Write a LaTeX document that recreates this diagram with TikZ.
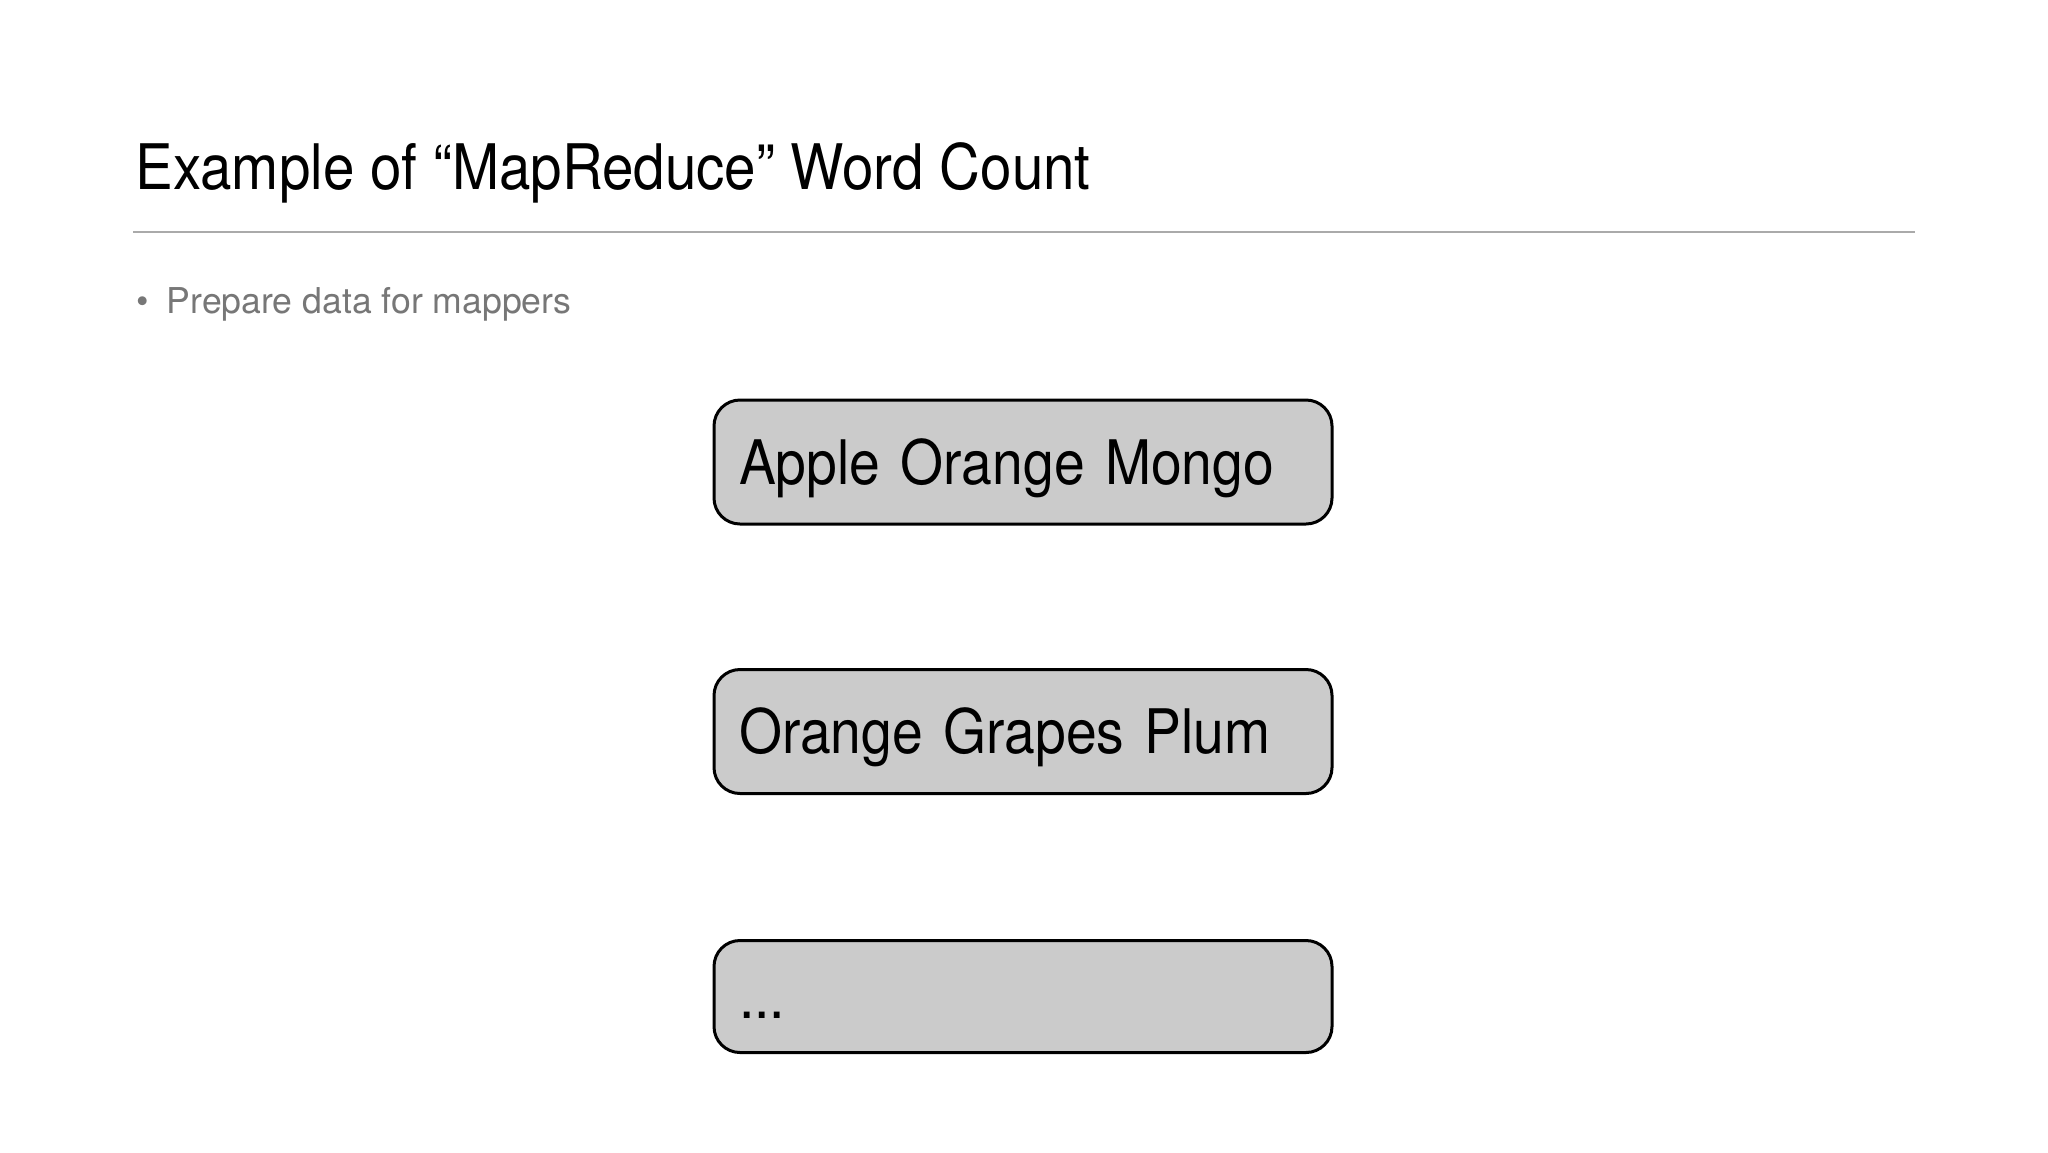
\documentclass[tikz,border=0pt]{standalone}
\usepackage{fontspec}
\setmainfont{TeX Gyre Heros}
\newfontfamily\slidefont[FakeStretch=0.9]{TeX Gyre Heros}
\definecolor{boxgray}{HTML}{CBCBCB}
\definecolor{rulegray}{HTML}{AAAAAA}
\definecolor{bulletgray}{HTML}{777777}
\begin{document}
\begin{tikzpicture}
[x=0.5pt,y=-0.5pt,
word box/.style={draw=black,line width=1.5pt,fill=boxgray,rounded corners=13pt,
  minimum width=309pt,text width=284pt,align=left,inner sep=0pt,
  font=\slidefont\fontsize{30.7}{36}\selectfont,text height=22pt,text depth=0pt},
slide text/.style={anchor=base west,inner sep=0pt}]
\useasboundingbox[fill=white] (0,0) rectangle (2048,1152);
% title and rule
\node[slide text,font=\slidefont\fontsize{31.4}{37}\selectfont] (title) at (135,189)
{Example of “MapReduce” Word Count};
\coordinate (rule left) at (133,232);
\coordinate (rule right) at (1915,232);
\draw[rulegray,line width=1pt] (rule left) -- (rule right);
% bullet
\node[slide text,font=\fontsize{17.8}{21}\selectfont,text=bulletgray] (bullet) at (136,313)
{\textbullet\hspace{9pt}Prepare data for mappers};
% input splits
\node[word box,minimum height=62pt] (split one) at (1023,462) {Apple Orange Mongo};
\node[word box,minimum height=62pt] (split two) at (1023,731.5) {Orange Grapes Plum};
\node[word box,minimum height=56pt] (split three) at (1023,996.5) {...};
\end{tikzpicture}
\end{document}
